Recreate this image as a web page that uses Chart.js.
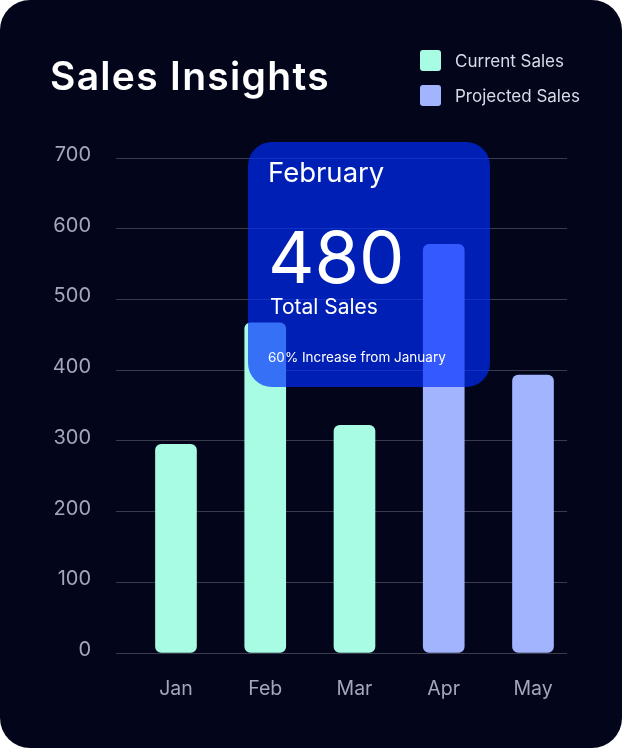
<!DOCTYPE html>
<html>
<head>
<meta charset="utf-8">
<script src="https://cdn.jsdelivr.net/npm/chart.js@4.4.1/dist/chart.umd.min.js"></script>
<style>
  body { margin: 0; background: #fff; font-family: Inter, 'Noto Sans', sans-serif; }
  .card {
    position: relative;
    width: 622px; height: 748px;
    background: #03051a;
    border-radius: 30px;
    overflow: hidden;
  }
  .title {
    position: absolute; left: 50px; top: 56px;
    color: #fff; font-size: 39px; font-weight: 600; line-height: 1;
    letter-spacing: 1.3px;
  }
  .legend { position: absolute; left: 420px; top: 50px; }
  .legend-item { display: flex; align-items: center; height: 21px; margin-bottom: 14px; }
  .legend-box { width: 21px; height: 21px; border-radius: 3px; margin-right: 14px; }
  .legend-text { color: #d9dce8; font-size: 17px; }
  .chart-wrap { position: absolute; left: 0; top: 0; width: 622px; height: 748px; }
  .info {
    position: absolute; left: 248px; top: 142px;
    width: 242px; height: 245px;
    border-radius: 24px;
    background: rgba(0, 45, 255, 0.68);
    color: #fff;
  }
  .info div { position: absolute; left: 20px; line-height: 1; white-space: nowrap; }
  .info .month { top: 17px; font-size: 27.5px; }
  .info .big { top: 79px; left: 20px; font-size: 72px; }
  .info .label { top: 154px; left: 22px; font-size: 21px; }
  .info .note { top: 209px; font-size: 13.5px; }
</style>
</head>
<body>
<div class="card">
  <div class="chart-wrap"><canvas id="salesChart"></canvas></div>
  <div class="title">Sales Insights</div>
  <div class="legend" id="legend"></div>
  <div class="info">
    <div class="month">February</div>
    <div class="big">480</div>
    <div class="label">Total Sales</div>
    <div class="note">60% Increase from January</div>
  </div>
</div>
<script>
const months = ['Jan', 'Feb', 'Mar', 'Apr', 'May'];
const currentSales = [295, 467, 322];   // Jan - Mar
const projectedSales = [578, 393];      // Apr - May
const yTicks = [0, 100, 200, 300, 400, 500, 600, 700];

const currentPoints = currentSales.map((v, i) => ({ x: i, y: v }));
const projectedPoints = projectedSales.map((v, i) => ({ x: i + currentSales.length, y: v }));

const ctx = document.getElementById('salesChart').getContext('2d');

const salesChart = new Chart(ctx, {
  type: 'bar',
  data: {
    datasets: [{
      label: 'Current Sales',
      data: currentPoints,
      backgroundColor: '#a8fce4',
      borderRadius: 6,
      borderSkipped: false,
      barThickness: 41,
      grouped: false
    }, {
      label: 'Projected Sales',
      data: projectedPoints,
      backgroundColor: '#a3b4ff',
      borderRadius: 6,
      borderSkipped: false,
      barThickness: 41,
      grouped: false
    }]
  },
  options: {
    responsive: true,
    maintainAspectRatio: false,
    animation: false,
    layout: { padding: { left: 0, top: 158, right: 55, bottom: 35 } },
    plugins: {
      legend: { display: false },
      tooltip: { enabled: false }
    },
    scales: {
      x: {
        type: 'linear',
        min: -0.672,
        max: 4.381,
        offset: false,
        grid: { display: false, offset: false },
        border: { display: false },
        afterBuildTicks: (scale) => {
          scale.ticks = months.map((_, i) => ({ value: i }));
        },
        afterFit: (scale) => { scale.height = 60; },
        ticks: {
          color: '#a3a7b9',
          font: { family: 'Inter', size: 19.5 },
          padding: 16,
          maxRotation: 0,
          autoSkip: false,
          callback: (value) => months[value]
        }
      },
      y: {
        min: 0,
        max: 700,
        grid: { color: 'rgba(255,255,255,0.22)', drawTicks: false },
        border: { display: false },
        afterBuildTicks: (scale) => {
          scale.ticks = yTicks.map(v => ({ value: v }));
        },
        afterFit: (scale) => { scale.width = 116; },
        ticks: {
          color: '#a3a7b9',
          font: { family: 'Inter', size: 20 },
          padding: 25,
          labelOffset: -3
        }
      }
    }
  }
});

// Build the legend from the chart's datasets
const legendEl = document.getElementById('legend');
salesChart.data.datasets.forEach(ds => {
  const item = document.createElement('div');
  item.className = 'legend-item';
  item.innerHTML = '<span class="legend-box" style="background:' + ds.backgroundColor + '"></span>' +
    '<span class="legend-text">' + ds.label + '</span>';
  legendEl.appendChild(item);
});
</script>
</body>
</html>
